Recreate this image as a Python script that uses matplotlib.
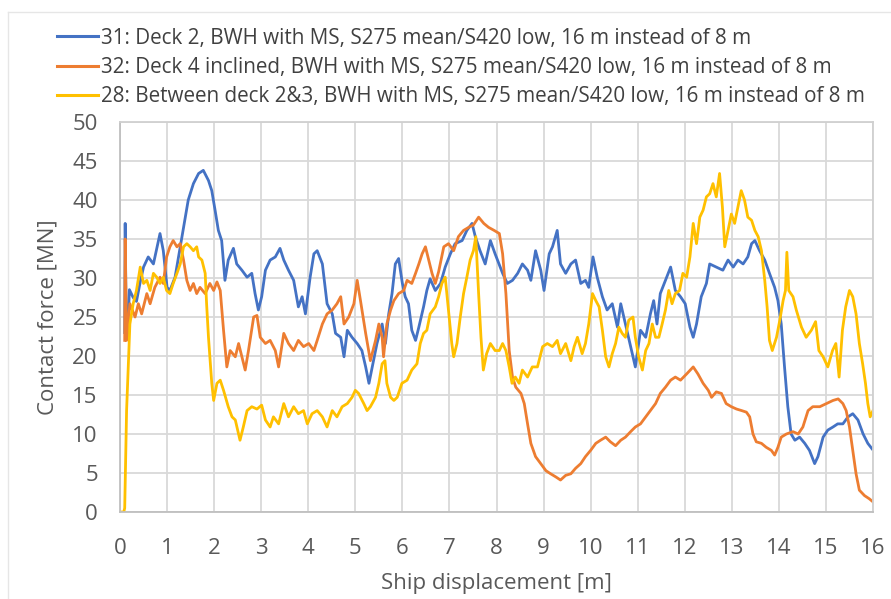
import matplotlib
matplotlib.use("Agg")
import matplotlib.pyplot as plt
from matplotlib.lines import Line2D

# Contact force histories (ship displacement in m, force in MN)
x31 = [0.10, 0.11, 0.13, 0.16, 0.20, 0.28, 0.35, 0.43, 0.50, 0.60, 0.71, 0.85, 0.92, 1.00, 1.06, 1.17,
       1.28, 1.35, 1.45, 1.56, 1.67, 1.77, 1.88, 1.95, 2.02, 2.09, 2.16, 2.23, 2.30, 2.41, 2.48, 2.59,
       2.70, 2.80, 2.87, 2.94, 3.01, 3.09, 3.19, 3.30, 3.40, 3.48, 3.58, 3.69, 3.79, 3.87, 3.94, 4.04,
       4.12, 4.19, 4.30, 4.40, 4.51, 4.58, 4.69, 4.76, 4.83, 4.93, 5.04, 5.14, 5.22, 5.29, 5.36, 5.46,
       5.57, 5.64, 5.71, 5.78, 5.85, 5.92, 6.00, 6.06, 6.13, 6.20, 6.28, 6.35, 6.45, 6.52, 6.59, 6.70,
       6.81, 6.91, 7.02, 7.12, 7.27, 7.37, 7.48, 7.55, 7.65, 7.76, 7.87, 7.97, 8.04, 8.13, 8.23, 8.34,
       8.45, 8.55, 8.66, 8.73, 8.83, 8.94, 9.01, 9.12, 9.19, 9.29, 9.36, 9.47, 9.58, 9.68, 9.79, 9.89,
       9.96, 10.05, 10.14, 10.25, 10.35, 10.46, 10.57, 10.64, 10.74, 10.85, 10.95, 11.06, 11.17, 11.27,
       11.34, 11.41, 11.48, 11.59, 11.70, 11.80, 11.91, 12.01, 12.11, 12.18, 12.25, 12.35, 12.46, 12.53,
       12.67, 12.81, 12.92, 13.03, 13.13, 13.24, 13.34, 13.42, 13.49, 13.59, 13.70, 13.80, 13.91, 13.98,
       14.05, 14.12, 14.19, 14.26, 14.34, 14.44, 14.55, 14.65, 14.76, 14.83, 14.94, 15.04, 15.15, 15.25,
       15.36, 15.47, 15.57, 15.68, 15.79, 15.89, 15.98]
y31 = [23.0, 37.0, 25.0, 22.5, 28.5, 27.5, 27.0, 29.5, 31.4, 32.7, 31.8, 35.7, 33.5, 28.8, 28.4, 30.1,
       34.0, 36.5, 40.0, 42.1, 43.4, 43.8, 42.5, 41.2, 38.7, 36.1, 34.8, 29.7, 32.3, 33.8, 31.8, 31.0,
       30.1, 30.6, 28.0, 25.9, 27.6, 31.0, 32.3, 32.7, 33.8, 32.3, 31.0, 29.7, 26.3, 27.6, 25.4, 30.1,
       33.1, 33.5, 31.8, 26.7, 25.4, 22.9, 22.4, 19.9, 23.3, 22.4, 21.6, 20.7, 18.6, 16.5, 18.6, 21.6,
       24.1, 21.6, 25.4, 28.0, 31.8, 32.5, 29.3, 27.6, 26.7, 23.3, 22.0, 23.7, 26.3, 28.4, 29.9, 28.4,
       29.3, 31.4, 33.1, 34.4, 34.8, 36.1, 37.0, 35.3, 33.5, 31.8, 34.8, 33.1, 32.0, 30.6, 29.3, 29.7,
       30.6, 31.8, 31.0, 29.7, 33.5, 31.0, 28.4, 33.1, 34.0, 36.1, 31.8, 30.6, 31.8, 32.3, 29.3, 29.7,
       28.8, 32.7, 30.1, 27.6, 25.9, 26.7, 23.7, 26.7, 24.1, 21.2, 18.6, 23.3, 22.4, 25.4,
       27.1, 24.1, 28.0, 29.7, 31.4, 28.4, 27.6, 26.7, 23.7, 22.4, 24.1, 27.6, 29.3, 31.8,
       31.4, 31.0, 32.3, 31.4, 32.3, 31.8, 32.7, 34.4, 34.8, 33.5, 32.3, 30.6, 28.8, 27.1,
       24.1, 18.6, 13.5, 10.0, 9.2, 9.6, 8.8, 7.9, 6.2, 7.1, 9.6, 10.5, 10.9, 11.3,
       11.3, 12.2, 12.6, 11.8, 10.0, 8.8, 8.1]

x32 = [0.10, 0.11, 0.14, 0.21, 0.32, 0.39, 0.46, 0.57, 0.64, 0.74, 0.85, 0.92, 0.99, 1.06, 1.13, 1.21,
       1.28, 1.35, 1.42, 1.49, 1.56, 1.63, 1.70, 1.81, 1.91, 1.99, 2.06, 2.13, 2.20, 2.27, 2.34, 2.45,
       2.52, 2.59, 2.66, 2.73, 2.84, 2.91, 2.98, 3.09, 3.19, 3.30, 3.37, 3.48, 3.58, 3.69, 3.79, 3.90,
       4.01, 4.12, 4.19, 4.30, 4.40, 4.51, 4.61, 4.69, 4.76, 4.86, 4.97, 5.04, 5.11, 5.22, 5.32, 5.43,
       5.50, 5.57, 5.60, 5.67, 5.75, 5.82, 5.92, 6.03, 6.10, 6.20, 6.28, 6.35, 6.42, 6.49, 6.56, 6.63,
       6.70, 6.77, 6.88, 6.98, 7.09, 7.19, 7.30, 7.41, 7.51, 7.62, 7.73, 7.83, 7.95, 8.06, 8.13, 8.20,
       8.27, 8.34, 8.41, 8.52, 8.59, 8.66, 8.73, 8.83, 8.94, 9.05, 9.15, 9.26, 9.36, 9.47, 9.58, 9.68,
       9.79, 9.89, 10.00, 10.11, 10.21, 10.32, 10.42, 10.53, 10.64, 10.74, 10.85, 10.95, 11.06, 11.17,
       11.27, 11.38, 11.48, 11.59, 11.70, 11.80, 11.91, 12.04, 12.18, 12.28, 12.39, 12.50, 12.57, 12.67,
       12.78, 12.88, 12.99, 13.10, 13.21, 13.31, 13.38, 13.45, 13.52, 13.63, 13.73, 13.84, 13.91, 13.98,
       14.05, 14.16, 14.30, 14.41, 14.51, 14.62, 14.72, 14.87, 15.01, 15.15, 15.26, 15.36, 15.43, 15.50,
       15.57, 15.64, 15.71, 15.82, 15.92, 16.00]
y32 = [22.0, 35.0, 22.0, 26.7, 25.0, 26.7, 25.4, 28.0, 26.7, 28.8, 30.1, 29.3, 32.7, 34.0, 34.8, 34.0,
       34.4, 32.3, 29.7, 28.4, 29.3, 28.0, 28.8, 28.0, 29.3, 28.4, 29.5, 28.4, 23.3, 18.6, 20.7, 19.9,
       21.6, 19.9, 18.2, 20.7, 25.0, 25.2, 22.4, 21.6, 22.0, 20.7, 18.6, 22.9, 21.6, 20.7, 22.0, 21.2,
       21.6, 20.7, 22.0, 24.1, 25.4, 25.9, 26.7, 27.6, 24.1, 25.0, 26.7, 29.7, 27.1, 22.9, 19.4, 22.0,
       24.1, 22.4, 19.9, 24.1, 25.9, 27.1, 28.0, 28.4, 29.7, 29.3, 30.6, 31.8, 33.1, 34.0, 32.3, 30.6,
       29.3, 30.8, 34.0, 34.4, 33.5, 35.3, 36.1, 36.5, 36.8, 37.8, 37.0, 36.5, 36.1, 35.7, 33.1, 28.0,
       20.7, 17.3, 16.0, 15.2, 13.9, 11.3, 8.8, 7.1, 6.2, 5.3, 4.9, 4.5, 4.1, 4.7, 4.9, 5.6,
       6.2, 7.1, 7.9, 8.8, 9.2, 9.6, 9.0, 8.5, 9.2, 9.6, 10.3, 10.9, 11.3, 12.2,
       13.0, 13.9, 15.2, 16.0, 16.9, 17.3, 16.9, 17.7, 18.6, 17.7, 16.5, 15.6, 14.7, 15.4,
       15.2, 13.9, 13.5, 13.2, 13.0, 12.8, 12.2, 10.0, 9.0, 8.8, 8.3, 7.9, 7.3, 8.3,
       9.6, 10.0, 10.3, 10.0, 10.9, 13.0, 13.5, 13.5, 13.9, 14.3, 14.5, 13.9, 13.0, 10.9,
       7.9, 4.9, 2.8, 2.1, 1.7, 1.3]

x28 = [0.00, 0.08, 0.10, 0.14, 0.21, 0.28, 0.35, 0.43, 0.50, 0.57, 0.64, 0.71, 0.78, 0.85, 0.92, 0.99,
       1.06, 1.13, 1.21, 1.28, 1.35, 1.42, 1.49, 1.56, 1.63, 1.67, 1.74, 1.81, 1.84, 1.88, 1.91, 1.95,
       1.99, 2.06, 2.13, 2.20, 2.30, 2.38, 2.45, 2.55, 2.62, 2.70, 2.80, 2.91, 3.01, 3.09, 3.19, 3.26,
       3.37, 3.48, 3.58, 3.69, 3.79, 3.90, 3.98, 4.08, 4.19, 4.30, 4.40, 4.51, 4.61, 4.72, 4.83, 4.93,
       5.00, 5.07, 5.18, 5.25, 5.32, 5.43, 5.50, 5.57, 5.63, 5.67, 5.75, 5.82, 5.89, 5.99, 6.10, 6.20,
       6.31, 6.38, 6.45, 6.52, 6.59, 6.70, 6.77, 6.84, 6.91, 6.98, 7.05, 7.09, 7.16, 7.23, 7.30, 7.37,
       7.44, 7.51, 7.56, 7.62, 7.67, 7.72, 7.79, 7.87, 7.97, 8.06, 8.13, 8.20, 8.27, 8.33, 8.40, 8.48,
       8.55, 8.66, 8.76, 8.87, 8.98, 9.08, 9.19, 9.29, 9.36, 9.47, 9.58, 9.65, 9.72, 9.82, 9.89, 9.96,
       10.04, 10.11, 10.18, 10.25, 10.32, 10.39, 10.46, 10.53, 10.60, 10.67, 10.74, 10.81, 10.90, 10.95,
       11.02, 11.10, 11.17, 11.24, 11.31, 11.38, 11.45, 11.52, 11.59, 11.66, 11.73, 11.80, 11.89, 11.96,
       12.04, 12.11, 12.18, 12.25, 12.32, 12.39, 12.46, 12.53, 12.60, 12.67, 12.74, 12.80, 12.85, 12.92,
       12.99, 13.06, 13.13, 13.20, 13.27, 13.34, 13.42, 13.49, 13.56, 13.63, 13.70, 13.75, 13.80, 13.86,
       13.95, 14.02, 14.09, 14.14, 14.17, 14.21, 14.30, 14.37, 14.48, 14.58, 14.69, 14.78, 14.85, 14.94,
       15.04, 15.14, 15.21, 15.28, 15.35, 15.42, 15.50, 15.57, 15.64, 15.71, 15.78, 15.84, 15.89, 15.94,
       16.00]
y28 = [0.0, 0.0, 0.5, 13.0, 24.1, 26.7, 28.4, 31.4, 29.3, 29.7, 28.4, 30.6, 30.1, 29.3, 30.1, 28.4,
       28.0, 29.3, 30.6, 31.8, 34.0, 34.4, 34.0, 33.5, 34.0, 32.7, 32.3, 30.6, 26.7, 22.4, 19.9, 16.5,
       14.3, 16.5, 16.9, 15.6, 13.5, 12.2, 11.8, 9.2, 10.9, 13.0, 13.5, 13.2, 13.7, 11.8, 10.9, 12.2,
       11.3, 13.9, 12.2, 13.5, 12.6, 13.0, 11.3, 12.6, 13.0, 12.2, 10.9, 13.0, 12.2, 13.5, 13.9, 14.7,
       15.6, 15.2, 13.9, 13.0, 13.5, 14.7, 16.5, 19.0, 19.4, 16.5, 14.7, 14.3, 14.7, 16.5, 16.9, 18.2,
       19.0, 21.6, 22.9, 23.3, 25.4, 26.3, 27.6, 29.3, 30.1, 25.9, 21.6, 19.9, 21.6, 25.0, 28.0, 30.1,
       32.3, 33.5, 35.3, 28.0, 22.4, 18.2, 20.3, 21.6, 20.7, 20.7, 21.6, 20.7, 18.6, 16.5, 17.3, 16.5,
       18.2, 17.3, 18.6, 18.6, 21.2, 21.6, 21.2, 22.0, 20.3, 21.6, 19.4, 21.2, 22.4, 20.3, 21.6, 24.1,
       28.0, 27.1, 26.3, 23.3, 19.9, 18.6, 20.3, 21.6, 23.7, 22.9, 22.4, 24.6, 25.0, 22.4,
       19.9, 18.2, 20.7, 21.6, 24.1, 22.4, 22.4, 24.1, 25.9, 28.4, 26.7, 28.0, 28.4, 30.6,
       30.1, 32.7, 37.0, 34.4, 37.8, 38.7, 40.4, 40.8, 42.1, 40.4, 43.4, 39.1, 34.0, 36.1,
       38.2, 37.0, 39.1, 41.2, 40.0, 37.8, 37.4, 36.1, 35.3, 33.5, 29.7, 26.3, 22.0, 20.7,
       22.4, 24.6, 27.1, 28.4, 33.3, 28.4, 27.6, 25.9, 23.7, 22.4, 23.3, 24.4, 20.7, 19.9,
       18.6, 20.7, 21.6, 17.3, 23.3, 26.3, 28.4, 27.6, 25.4, 21.6, 19.0, 16.5, 13.9, 12.2,
       13.0]

labels = [
    "31: Deck 2, BWH with MS, S275 mean/S420 low, 16 m instead of 8 m",
    "32: Deck 4 inclined, BWH with MS, S275 mean/S420 low, 16 m instead of 8 m",
    "28: Between deck 2&3, BWH with MS, S275 mean/S420 low, 16 m instead of 8 m",
]
colors = ["#4472C4", "#ED7D31", "#FFC000"]
x_ticks = list(range(0, 17))
y_ticks = list(range(0, 51, 5))

plt.rcParams["font.family"] = ["Open Sans", "DejaVu Sans"]

fig = plt.figure(figsize=(8.91, 5.99), dpi=100)
ax = fig.add_axes([120 / 891, 87 / 599, 753 / 891, 390 / 599])

series = [(x31, y31), (x32, y32), (x28, y28)]
for (xs, ys), c in zip(series, colors):
    ax.plot(xs, ys, color=c, lw=2.0, solid_joinstyle="round")

ax.set_xlim(0, 16)
ax.set_ylim(0, 50)
ax.set_xticks(x_ticks)
ax.set_yticks(y_ticks)
ax.tick_params(length=0, labelsize=16, colors="#595959")
ax.tick_params(axis="x", pad=19)
ax.tick_params(axis="y", pad=16)
ax.grid(True, color="#D9D9D9", lw=1.3)
ax.set_axisbelow(True)
for s in ax.spines.values():
    s.set_color("#D0D0D0")
    s.set_linewidth(1.3)
ax.spines["left"].set_color("#BFBFBF")
ax.spines["bottom"].set_color("#BFBFBF")

ax.set_xlabel("Ship displacement [m]", fontsize=16, color="#595959", labelpad=10)
ax.set_ylabel("Contact force [MN]", fontsize=16, color="#595959", labelpad=10)

handles = [Line2D([], [], color=c, lw=2.2) for c in colors]
leg = fig.legend(handles, labels, loc="upper left", bbox_to_anchor=(38 / 891, 1 - 9 / 599),
                 frameon=False, handlelength=2.0, handletextpad=0.15, labelspacing=0.4,
                 prop={"family": ["Open Sans", "DejaVu Sans"], "size": 14.9})
for t in leg.get_texts():
    t.set_color("#404040")

# light chart-area frame
fig.add_artist(Line2D([8 / 891, 8 / 891], [0, 1 - 12 / 599], transform=fig.transFigure,
                      color="#E6E6E6", lw=1))
fig.add_artist(Line2D([8 / 891, 1], [1 - 12 / 599, 1 - 12 / 599], transform=fig.transFigure,
                      color="#E6E6E6", lw=1))

fig.savefig("out.png", dpi=100)
